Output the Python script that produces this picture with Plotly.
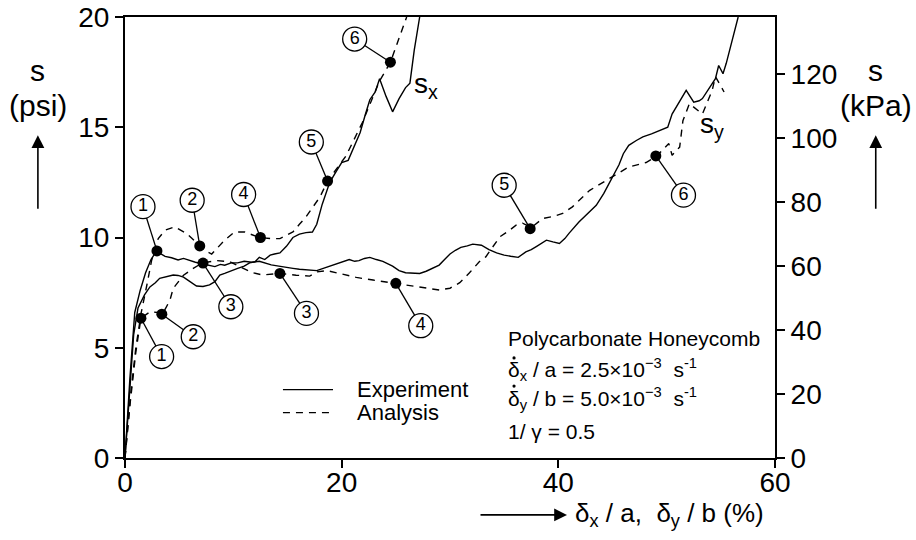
import plotly.graph_objects as go

# ---------------- data ----------------
# s_x experiment (solid)
sx_exp = [(0, 0), (0.4, 3.0), (0.8, 5.6), (1.2, 6.8), (1.8, 7.4), (2.3, 7.76), (2.8, 7.95),
          (3.2, 8.15), (3.7, 8.2), (4.45, 8.3), (4.9, 8.28), (5.4, 8.2), (5.8, 8.07), (6.2, 7.92),
          (6.6, 7.8), (7.2, 7.78), (7.8, 7.85), (8.3, 8.0), (8.75, 8.3), (9.2, 8.37), (9.8, 8.5),
          (10.4, 8.6), (11.0, 8.7), (11.5, 8.85), (12.0, 8.9), (12.4, 9.1), (12.9, 9.0),
          (13.4, 9.2), (13.8, 9.25), (14.3, 9.3), (14.9, 9.6), (15.5, 10.0), (16.1, 10.15),
          (16.7, 10.22), (17.3, 10.25), (17.7, 10.6), (18.2, 11.5), (18.9, 12.5), (19.5, 13.0),
          (20.0, 13.4), (20.6, 13.5), (21.1, 14.1), (21.7, 14.75), (22.2, 15.6), (22.6, 16.25),
          (23.1, 16.6), (23.5, 17.2), (24.1, 16.4), (24.7, 15.7), (25.3, 16.3), (25.9, 16.8),
          (26.3, 17.0), (26.7, 18.5), (27.2, 20.0)]
# s_x analysis (dashed)
sx_ana = [(0, 0), (0.5, 2.8), (1.0, 5.0), (1.5, 6.6), (2.0, 7.8), (2.46, 8.97), (3.07, 9.95),
          (3.7, 10.33), (4.6, 10.48), (5.7, 10.18), (6.9, 9.62), (7.6, 9.35), (8.0, 9.25),
          (8.3, 9.42), (9.2, 9.88), (10.1, 10.25), (11.06, 10.25), (12.4, 10.0), (13.5, 9.95),
          (14.3, 9.95), (15.5, 10.25), (16.1, 10.6), (16.7, 10.93), (18.0, 11.84), (18.7, 12.56),
          (20.4, 13.7), (21.9, 15.2), (23.5, 17.1), (24.5, 17.95), (26.0, 20.0)]
# s_y experiment (solid)
sy_exp = [(0, 0), (0.45, 3.6), (0.9, 6.6), (1.4, 7.6), (1.9, 8.4), (2.4, 9.0), (2.9, 9.38),
          (3.3, 9.25), (3.7, 9.14), (4.3, 9.08), (4.9, 8.98), (5.4, 9.05), (5.8, 8.98),
          (6.5, 8.88), (7.2, 8.8), (7.8, 8.75), (8.3, 8.68), (8.8, 8.78), (9.2, 8.74),
          (9.8, 8.85), (10.4, 8.85), (11.0, 8.92), (11.7, 8.88), (12.4, 8.92), (13.0, 8.82),
          (13.5, 8.76), (14.2, 8.7), (15.0, 8.62), (15.5, 8.6), (16.1, 8.56), (16.5, 8.55),
          (17.2, 8.52), (17.7, 8.5), (18.3, 8.6), (18.9, 8.7), (19.5, 8.78), (19.8, 8.85),
          (20.2, 8.9), (20.7, 9.0), (21.2, 8.92), (21.6, 8.95), (22.1, 9.05), (22.6, 9.1),
          (23.2, 9.0), (23.8, 8.92), (24.7, 8.7), (25.3, 8.5), (25.9, 8.4), (26.6, 8.38),
          (27.2, 8.37), (27.8, 8.47), (28.4, 8.6), (29.0, 8.75), (29.5, 9.0), (30.0, 9.25),
          (30.5, 9.42), (31.0, 9.55), (31.6, 9.62), (32.1, 9.7), (32.9, 9.65), (33.6, 9.45),
          (34.3, 9.3), (35.0, 9.2), (35.6, 9.15), (36.3, 9.1), (37.0, 9.35), (37.5, 9.45),
          (38.0, 9.6), (38.5, 9.75), (38.9, 9.88), (39.5, 9.8), (40.1, 9.73), (40.6, 9.95),
          (41.0, 10.2), (41.9, 10.7), (42.7, 11.1), (43.5, 11.46), (44.2, 12.0), (45.0, 12.75),
          (45.6, 13.3), (46.0, 13.8), (46.5, 14.18), (47.2, 14.4), (47.8, 14.56), (48.6, 14.7),
          (49.5, 14.86), (50.1, 15.0), (50.5, 15.6), (51.2, 16.2), (51.8, 16.67), (52.5, 16.14),
          (53.0, 16.2), (53.3, 16.3), (54.0, 16.8), (54.5, 17.2), (54.8, 17.8), (55.2, 17.43),
          (55.5, 17.9), (55.8, 18.49), (56.2, 19.2), (56.6, 20.0)]
# s_y analysis (dashed)
sy_ana = [(0, 0), (0.5, 2.6), (1.0, 4.8), (1.47, 6.34), (2.3, 6.63), (3.0, 6.6), (3.46, 6.52),
          (4.15, 7.16), (4.45, 7.69), (5.4, 8.29), (6.3, 8.6), (7.15, 8.85), (8.5, 8.95),
          (9.7, 8.9), (10.3, 8.75), (11.8, 8.4), (12.7, 8.3), (14.3, 8.37), (15.8, 8.29),
          (17.05, 8.25), (17.7, 8.44), (18.6, 8.5), (19.8, 8.37), (21.35, 8.19), (22.9, 8.07),
          (25.0, 7.92), (27.2, 7.76), (29.0, 7.62), (30.0, 7.7), (30.9, 7.95), (31.8, 8.4),
          (32.7, 8.9), (33.3, 9.12), (34.6, 10.03), (35.5, 10.33), (36.1, 10.56), (36.7, 10.65),
          (37.5, 10.45), (38.55, 10.86), (39.5, 10.95), (40.4, 11.09), (41.3, 11.39),
          (42.9, 12.14), (44.7, 12.67), (46.5, 13.2), (48.1, 13.4), (49.1, 13.7), (50.2, 14.26),
          (50.5, 13.73), (51.2, 14.1), (51.5, 15.3), (52.1, 16.07), (53.3, 15.6), (54.2, 16.67),
          (54.5, 17.3), (55.3, 16.6)]

# numbered state points (dots) and their labels
point_x = [2.95, 6.9, 12.5, 18.7, 24.5, 7.2, 1.47, 3.4, 14.3, 25.0, 37.4, 49.0]
point_y = [9.39, 9.62, 10.0, 12.56, 17.95, 8.84, 6.34, 6.52, 8.37, 7.92, 10.4, 13.7]
point_labels = ["1", "2", "4", "5", "6", "3", "1", "2", "3", "4", "5", "6"]
label_x = [1.66, 6.2, 10.95, 17.2, 21.2, 9.77, 3.38, 6.3, 16.75, 27.3, 35.0, 51.55]
label_y = [11.4, 11.69, 11.95, 14.33, 19.0, 6.86, 4.6, 5.5, 6.56, 6.0, 12.37, 11.92]

x_ticks = [0, 20, 40, 60]
y_ticks_psi = [0, 5, 10, 15, 20]
y_ticks_kpa = [0, 20, 40, 60, 80, 100, 120]
PSI_TO_KPA = 6.894757

FONT = "Liberation Sans, Arial, Helvetica, sans-serif"

def xs(p):
    return [a for a, _ in p]

def ys(p):
    return [b for _, b in p]

fig = go.Figure()
line_w = 1.4
dash = "7px,6px"
fig.add_trace(go.Scatter(x=xs(sx_exp), y=ys(sx_exp), mode="lines",
                         line=dict(color="black", width=line_w), showlegend=False))
fig.add_trace(go.Scatter(x=xs(sx_ana), y=ys(sx_ana), mode="lines",
                         line=dict(color="black", width=line_w, dash=dash), showlegend=False))
fig.add_trace(go.Scatter(x=xs(sy_exp), y=ys(sy_exp), mode="lines",
                         line=dict(color="black", width=line_w), showlegend=False))
fig.add_trace(go.Scatter(x=xs(sy_ana), y=ys(sy_ana), mode="lines",
                         line=dict(color="black", width=line_w, dash=dash), showlegend=False))

# leader lines
lx, ly = [], []
for px, py, cx, cy in zip(point_x, point_y, label_x, label_y):
    lx += [px, cx, None]
    ly += [py, cy, None]
fig.add_trace(go.Scatter(x=lx, y=ly, mode="lines", line=dict(color="black", width=1.3),
                         showlegend=False, hoverinfo="skip"))
# dots
fig.add_trace(go.Scatter(x=point_x, y=point_y, mode="markers",
                         marker=dict(color="black", size=11), showlegend=False))
# circled numbers
fig.add_trace(go.Scatter(x=label_x, y=label_y, mode="markers+text", text=point_labels,
                         textposition="middle center",
                         textfont=dict(family=FONT, size=18, color="black"),
                         marker=dict(color="white", size=24, line=dict(color="black", width=1.3)),
                         showlegend=False, cliponaxis=False))
# invisible trace on the kPa axis
fig.add_trace(go.Scatter(x=[0], y=[0], yaxis="y2", mode="markers",
                         marker=dict(opacity=0), showlegend=False, hoverinfo="skip"))

axis_common = dict(showline=True, linecolor="black", linewidth=2, ticks="outside",
                   ticklen=8, tickwidth=2, tickcolor="black", showgrid=False, zeroline=False,
                   automargin=False,
                   tickfont=dict(family=FONT, size=28, color="black"))

fig.update_layout(
    width=916, height=540,
    margin=dict(l=125, r=141, t=17, b=82, autoexpand=False),
    paper_bgcolor="white", plot_bgcolor="white",
    font=dict(family=FONT, color="black"),
    xaxis=dict(range=[0, 60], tickvals=x_ticks, mirror=True, ticklabelstandoff=-10,
               **axis_common),
    yaxis=dict(range=[0, 20], tickvals=y_ticks_psi, mirror=True, **axis_common),
    yaxis2=dict(range=[0, 20 * PSI_TO_KPA], tickvals=y_ticks_kpa, overlaying="y",
                side="right", anchor="x", **axis_common),
)

ann = []
def text(x, y, s, size, xanchor="center", xref="paper", yref="paper", yanchor="middle"):
    ann.append(dict(x=x, y=y, xref=xref, yref=yref, text=s, showarrow=False,
                    xanchor=xanchor, yanchor=yanchor, borderpad=0,
                    font=dict(family=FONT, size=size, color="black")))

def arrow(x, y, ax, ay):
    ann.append(dict(x=x, y=y, xref="paper", yref="paper", ax=ax, ay=ay, text="",
                    showarrow=True, arrowhead=2, arrowsize=1.6, arrowwidth=1.6,
                    arrowcolor="black"))

# curve labels
text(27.8, 16.9, "s<sub>x</sub>", 28, xref="x", yref="y")
text(54.2, 15.1, "s<sub>y</sub>", 28, xref="x", yref="y")

# axis titles ("s" above the unit, boxes touching at the boundary)
title_split = 0.84
text(-0.134, title_split, "s", 30, yanchor="bottom")
text(-0.134, title_split, "(psi)", 30, yanchor="top")
text(1.155, title_split, "s", 30, yanchor="bottom")
text(1.155, title_split, "(kPa)", 30, yanchor="top")
arrow(-0.134, 0.732, 0, 75)
arrow(1.155, 0.732, 0, 75)
arrow(0.68, -0.129, -88, 0)
text(0.69, -0.129, "δ<sub>x</sub> / a,  δ<sub>y</sub> / b (%)", 26, xanchor="left")

# legend
text(0.355, 0.155, "Experiment", 22, xanchor="left")
text(0.355, 0.103, "Analysis", 22, xanchor="left")

# parameter block
text(0.587, 0.27, "Polycarbonate Honeycomb", 21, xanchor="left")
text(0.587, 0.20, "δ<sub>x</sub> / a = 2.5×10<sup>−3</sup>  s<sup>-1</sup>", 21, xanchor="left")
text(0.587, 0.136, "δ<sub>y</sub> / b = 5.0×10<sup>−3</sup>  s<sup>-1</sup>", 21, xanchor="left")
text(0.587, 0.059, "1/ γ = 0.5", 21, xanchor="left")

fig.update_layout(annotations=ann)

# dots over the deltas (time derivatives), drawn as tiny filled circles
for yy in (0.227, 0.163):
    fig.add_shape(type="circle", xref="paper", yref="paper",
                  xsizemode="pixel", ysizemode="pixel", xanchor=0.5985, yanchor=yy,
                  x0=-1.6, x1=1.6, y0=-1.6, y1=1.6,
                  fillcolor="black", line=dict(color="black", width=0))

# legend samples
fig.add_shape(type="line", xref="paper", yref="paper", x0=0.243, x1=0.32, y0=0.155, y1=0.155,
              line=dict(color="black", width=1.4))
fig.add_shape(type="line", xref="paper", yref="paper", x0=0.243, x1=0.32, y0=0.103, y1=0.103,
              line=dict(color="black", width=1.4, dash=dash))

fig.write_html("out.html")
